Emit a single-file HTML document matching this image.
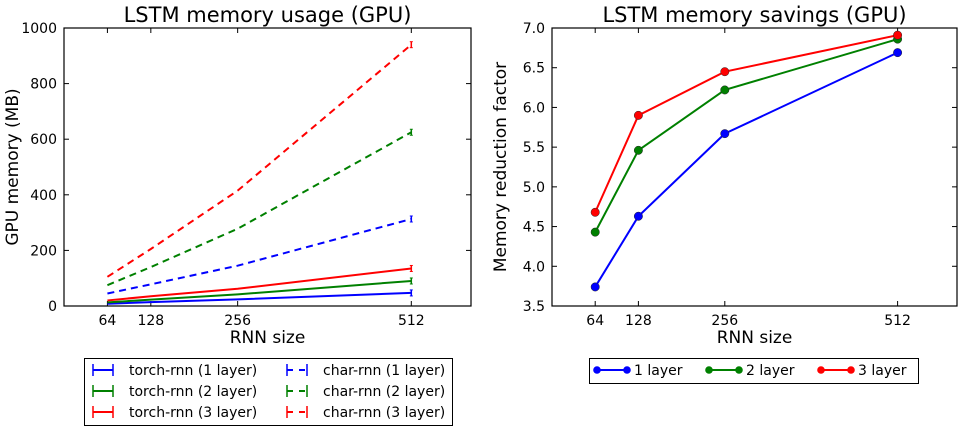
<!DOCTYPE html>
<html><head><meta charset="utf-8"><style>
body{margin:0;background:#fff;width:964px;height:432px;overflow:hidden}
text{font-family:"DejaVu Sans","Liberation Sans",sans-serif}
</style></head><body>
<svg id="c" width="964" height="432" xmlns="http://www.w3.org/2000/svg"></svg>
<script>
const xCats=[64,128,256,512];
const torch1=[8,14,24,47];
const torch2=[13,23,42,90];
const torch3=[20,35,62,135];
const char1=[45,78,145,313];
const char2=[75,140,278,625];
const char3=[105,205,415,940];
const save1=[3.74,4.63,5.67,6.69];
const save2=[4.43,5.46,6.22,6.86];
const save3=[4.68,5.90,6.45,6.91];
const leftYTicks=[0,200,400,600,800,1000];
const rightYTicks=[3.5,4.0,4.5,5.0,5.5,6.0,6.5,7.0];
const svg=document.getElementById('c');
const NS='http://www.w3.org/2000/svg';
function el(tag,a,p){const e=document.createElementNS(NS,tag);for(const k in a)e.setAttribute(k,a[k]);(p||svg).appendChild(e);return e;}
function txt(s,a,p){const e=el('text',a,p);e.textContent=s;return e;}
function axes(x0,x1,y0,y1,ymin,ymax,yt,fmt,title,ylab,name){
  const g=el('g',{});
  
  
  const sx=v=>x0+(v-0)/600*(x1-x0);
  const sy=v=>y1-(v-ymin)/(ymax-ymin)*(y1-y0);
  el('rect',{x:x0,y:y0,width:x1-x0,height:y1-y0,fill:'#fff',stroke:'#000','stroke-width':1.2},g);
  xCats.forEach(v=>{const x=sx(v);el('line',{x1:x,x2:x,y1:y1,y2:y1-5,stroke:'#000'},g);el('line',{x1:x,x2:x,y1:y0,y2:y0+5,stroke:'#000'},g);
    const t=txt(String(v),{x:x,y:y1+19,'text-anchor':'middle','font-size':14},g);});
  yt.forEach(v=>{const y=sy(v);el('line',{x1:x0,x2:x0+5,y1:y,y2:y,stroke:'#000'},g);el('line',{x1:x1,x2:x1-5,y1:y,y2:y,stroke:'#000'},g);
    const t=txt(fmt(v),{x:x0-7,y:y+5,'text-anchor':'end','font-size':14},g);});
  const tt=txt(title,{x:(x0+x1)/2,y:y0-6,'text-anchor':'middle','font-size':21},g);
  const xl=txt('RNN size',{x:(x0+x1)/2,y:y1+37,'text-anchor':'middle','font-size':17},g);
  const yl=txt(ylab,{x:0,y:0,'text-anchor':'middle','font-size':17,transform:`translate(${x0-46},${(y0+y1)/2}) rotate(-90)`},g);
  return {sx,sy,g};
}
const L=axes(64,471,28,306,0,1000,leftYTicks,v=>String(v),'LSTM memory usage (GPU)','GPU memory (MB)','left-chart');
function series(ax,vals,color,dash,name,markers){
  const pts=xCats.map((c,i)=>ax.sx(c)+','+ax.sy(vals[i])).join(' ');
  const p=el('polyline',{points:pts,fill:'none',stroke:color,'stroke-width':2,'stroke-dasharray':dash||'none'},ax.g);
  
  
  xCats.forEach((c,i)=>{
    if(markers){const m=el('circle',{cx:ax.sx(c),cy:ax.sy(vals[i]),r:4.2,fill:color,stroke:'#222','stroke-width':0.5},ax.g);
      
      }
    else if(c===512){const x=ax.sx(c),y=ax.sy(vals[i]);el('line',{x1:x-1.5,x2:x+1.5,y1:y-3,y2:y-3,stroke:color},ax.g);el('line',{x1:x-1.5,x2:x+1.5,y1:y+3,y2:y+3,stroke:color},ax.g);el('line',{x1:x,x2:x,y1:y-3,y2:y+3,stroke:color,'stroke-width':1.5},ax.g);}
  });
}
series(L,torch1,'#0000ff',null,'torch-rnn-1-line');
series(L,torch2,'#008000',null,'torch-rnn-2-line');
series(L,torch3,'#ff0000',null,'torch-rnn-3-line');
series(L,char1,'#0000ff','7,5','char-rnn-1-line');
series(L,char2,'#008000','7,5','char-rnn-2-line');
series(L,char3,'#ff0000','7,5','char-rnn-3-line');
const R=axes(552,957,28,306,3.5,7.0,rightYTicks,v=>v.toFixed(1),'LSTM memory savings (GPU)','Memory reduction factor','right-chart');
series(R,save1,'#0000ff',null,'savings-1-layer-line',true);
series(R,save2,'#008000',null,'savings-2-layer-line',true);
series(R,save3,'#ff0000',null,'savings-3-layer-line',true);
const lg=el('g',{});


el('rect',{x:84.5,y:358.5,width:368,height:67,fill:'#fff',stroke:'#000','stroke-width':1},lg);
const labs=[['torch-rnn (1 layer)','char-rnn (1 layer)','#0000ff'],['torch-rnn (2 layer)','char-rnn (2 layer)','#008000'],['torch-rnn (3 layer)','char-rnn (3 layer)','#ff0000']];
labs.forEach((r,i)=>{const y=370+i*21;
  el('line',{x1:93,x2:113,y1:y,y2:y,stroke:r[2],'stroke-width':2},lg);
  el('line',{x1:93,x2:93,y1:y-6,y2:y+6,stroke:r[2],'stroke-width':1.5},lg);el('line',{x1:113,x2:113,y1:y-6,y2:y+6,stroke:r[2],'stroke-width':1.5},lg);
  const a=txt(r[0],{x:129,y:y+5,'font-size':14},lg);
  el('line',{x1:287,x2:307,y1:y,y2:y,stroke:r[2],'stroke-width':2,'stroke-dasharray':'6,6'},lg);
  el('line',{x1:287,x2:287,y1:y-6,y2:y+6,stroke:r[2],'stroke-width':1.5},lg);el('line',{x1:307,x2:307,y1:y-6,y2:y+6,stroke:r[2],'stroke-width':1.5},lg);
  const b=txt(r[1],{x:323,y:y+5,'font-size':14},lg);
});
const rg=el('g',{});


el('rect',{x:589.5,y:358.5,width:329,height:25,fill:'#fff',stroke:'#000','stroke-width':1},rg);
[['1 layer','#0000ff',597],['2 layer','#008000',709],['3 layer','#ff0000',821]].forEach(r=>{const y=370;
  el('line',{x1:r[2],x2:r[2]+30,y1:y,y2:y,stroke:r[1],'stroke-width':2},rg);
  el('circle',{cx:r[2],cy:y,r:3.8,fill:r[1]},rg);el('circle',{cx:r[2]+30,cy:y,r:3.8,fill:r[1]},rg);
  const t=txt(r[0],{x:r[2]+37,y:y+5,'font-size':14},rg);});
</script>
</body></html>
